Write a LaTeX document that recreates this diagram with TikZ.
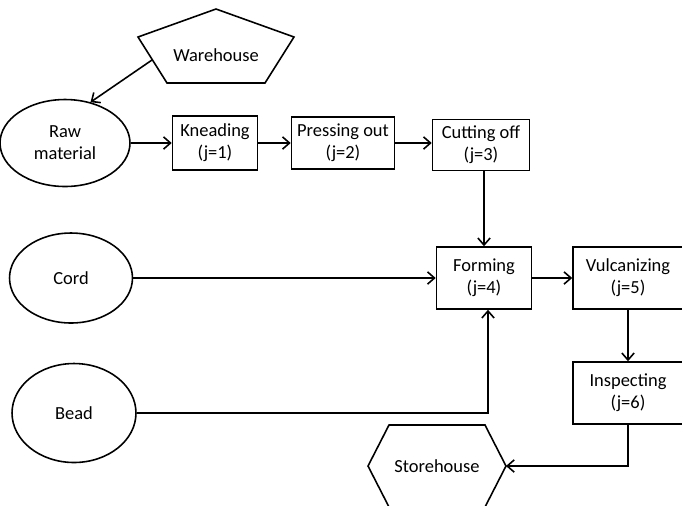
\documentclass[tikz,border=0pt]{standalone}
\usepackage{fontspec}
\setmainfont{Carlito}
\usepackage{tikz}
\usetikzlibrary{positioning, arrows.meta, shapes.geometric}

\begin{document}
\begin{tikzpicture}[
  x=0.02cm, y=-0.02cm,
  font=\fontsize{10.5}{12.5}\selectfont,
  proc/.style={rectangle, draw, line width=0.9pt, align=center, inner sep=2pt},
  src/.style={ellipse, draw, line width=0.9pt, align=center, inner sep=0pt},
  flow/.style={->, line width=0.9pt},
  >={Straight Barb[length=4pt, width=7pt]}
]
  \clip (0,0) rectangle (682,505);

  % --- Sources (ellipses) ---
  \node[src, minimum width=2.6cm,  minimum height=1.74cm] (raw)  at (65,143) {Raw\\material};
  \node[src, minimum width=2.46cm, minimum height=1.8cm]  (cord) at (71,278) {Cord};
  \node[src, minimum width=2.48cm, minimum height=1.98cm] (bead) at (74,413) {Bead};

  % --- Process steps ---
  \node[proc, minimum width=1.7cm,  minimum height=1.08cm] (knead) at (215,143) {Kneading\\(j=1)};
  \node[proc, minimum width=2.06cm, minimum height=1.04cm] (press) at (343,143) {Pressing out\\(j=2)};
  \node[proc, minimum width=1.94cm, minimum height=1.02cm] (cut)   at (481,145) {Cutting off\\(j=3)};
  \node[proc, minimum width=1.9cm,  minimum height=1.24cm] (form)  at (484,278) {Forming\\(j=4)};
  \node[proc, minimum width=2.2cm,  minimum height=1.24cm] (vulc)  at (628,278) {Vulcanizing\\(j=5)};
  \node[proc, minimum width=2.2cm,  minimum height=1.24cm] (insp)  at (628,393) {Inspecting\\(j=6)};

  % --- Warehouse (pentagon) ---
  \node (wh) at (216,55) {Warehouse};
  \begin{scope}[shift={(wh.center)}]
    \draw[line width=0.9pt] (0,-46) -- (78,-18) -- (49,28) -- (-49,28) -- (-78,-18) -- cycle;
    \coordinate (whL) at (-64,5);
  \end{scope}

  % --- Storehouse (hexagon) ---
  \node (store) at (437,466) {Storehouse};
  \begin{scope}[shift={(store.center)}]
    \draw[line width=0.9pt] (-69,0) -- (-48,-41) -- (48,-41) -- (69,0) -- (48,41) -- (-48,41) -- cycle;
    \coordinate (storeR) at (69,0);
  \end{scope}

  % --- Flows ---
  \draw[flow] (whL) -- (raw.58);
  \draw[flow] (raw) -- (knead);
  \draw[flow] (knead) -- (press);
  \draw[flow] (press.east) -- (press.east -| cut.west);
  \draw[flow] (cut.south -| form.north) -- (form.north);
  \draw[flow] (cord) -- (form);
  \draw[flow] (form) -- (vulc);
  \draw[flow] (vulc) -- (insp);
  \draw[flow] (bead.east) -| ([xshift=0.08cm]form.south);
  \draw[flow] (insp.south) |- (storeR);
\end{tikzpicture}
\end{document}
